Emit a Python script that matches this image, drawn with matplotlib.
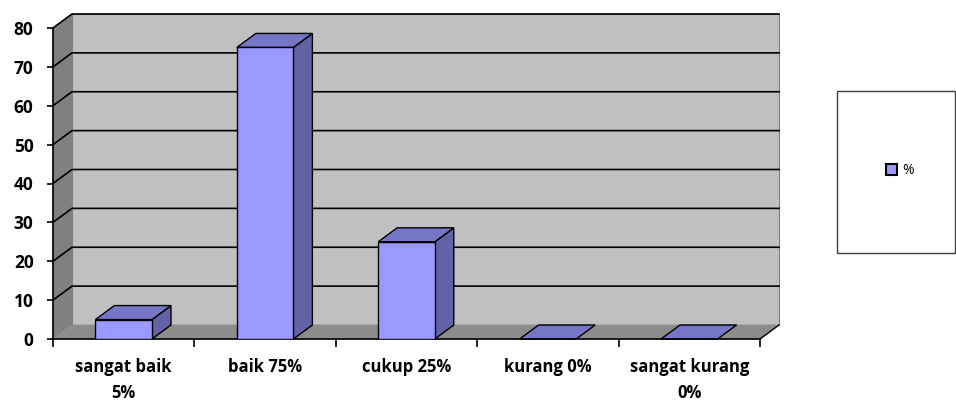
import matplotlib.pyplot as plt
from matplotlib.patches import Polygon, Rectangle, Patch
from matplotlib.lines import Line2D
from matplotlib.transforms import IdentityTransform

categories = ["sangat baik\n5%", "baik 75%", "cukup 25%", "kurang 0%", "sangat kurang\n0%"]
values = [5, 75, 25, 0, 0]
yticks = [0, 10, 20, 30, 40, 50, 60, 70, 80]
series_name = "%"

plt.rcParams['font.family'] = ['Open Sans', 'DejaVu Sans']
plt.rcParams['font.weight'] = 'bold'

fig = plt.figure(figsize=(9.56, 4.01), dpi=100)
ax = fig.add_axes([53 / 956, 62 / 401, 707 / 956, 311 / 401])
ax.set_xlim(0, len(categories))
ax.set_ylim(0, yticks[-1])
ax.set_facecolor('none')
for s in ['top', 'right']:
    ax.spines[s].set_visible(False)
ax.spines['left'].set_linewidth(1.2)
ax.spines['bottom'].set_linewidth(1.2)

DX, DY = 19, 14  # depth offset in pixels
ID = IdentityTransform()


def disp(x, y, back=False):
    p = ax.transData.transform((x, y))
    if back:
        p = p + (DX, DY)
    return p


def poly(pts, fc, ec='black', lw=1.0, z=1):
    ax.add_patch(Polygon(pts, closed=True, facecolor=fc, edgecolor=ec, linewidth=lw,
                         transform=ID, clip_on=False, zorder=z))


n = len(categories)
ymax = yticks[-1]

# back wall
poly([disp(0, 0, True), disp(n, 0, True), disp(n, ymax, True), disp(0, ymax, True)],
     '#C0C0C0', ec='#808080', lw=0.8, z=0.5)
# left wall
poly([disp(0, 0), disp(0, 0, True), disp(0, ymax, True), disp(0, ymax)],
     '#808080', ec='#808080', lw=0.5, z=0.6)
# floor
poly([disp(0, 0), disp(n, 0), disp(n, 0, True), disp(0, 0, True)],
     '#8C8C8C', ec='#8C8C8C', lw=0.5, z=0.6)

# gridlines
for v in yticks[1:]:
    a, b = disp(0, v, True), disp(n, v, True)
    c = disp(0, v)
    ax.add_line(Line2D([c[0], a[0], b[0]], [c[1], a[1], b[1]], color='black',
                       linewidth=1.2, transform=ID, clip_on=False, zorder=0.8))
# right floor edge
a, b = disp(n, 0), disp(n, 0, True)
ax.add_line(Line2D([a[0], b[0]], [a[1], b[1]], color='black', linewidth=1.0,
                   transform=ID, clip_on=False, zorder=0.9))

# bars
w = 0.4
centers = [i + 0.5 for i in range(n)]
for xc, v in zip(centers, values):
    x0, x1 = xc - w / 2, xc + w / 2
    if v > 0:
        poly([disp(x1, 0), disp(x1, 0, True), disp(x1, v, True), disp(x1, v)], '#6262A6', z=2)
    poly([disp(x0, v), disp(x1, v), disp(x1, v, True), disp(x0, v, True)], '#7676C6', z=2)
ax.bar(centers, values, width=w, color='#9999FF', edgecolor='black', linewidth=1.0, zorder=3)

# ticks
ax.set_yticks(yticks)
ax.tick_params(axis='y', length=4, width=1.2, pad=10, labelsize=12.5)
ax.set_xticks(range(n + 1))
ax.set_xticklabels([])
ax.set_xticks(centers, minor=True)
ax.set_xticklabels(categories, minor=True, linespacing=1.55)
ax.tick_params(axis='x', which='major', length=6, width=1.2, direction='out')
ax.tick_params(axis='x', which='minor', length=0, pad=14, labelsize=12)
for lab in ax.get_xticklabels(minor=True) + ax.get_yticklabels():
    lab.set_fontweight('bold')

# legend box
fig.add_artist(Rectangle((837 / 956, 1 - 253 / 401), 118 / 956, 162 / 401,
                         transform=fig.transFigure, facecolor='white', edgecolor='#404040',
                         linewidth=1.0))
fig.legend(handles=[Patch(facecolor='#9999FF', edgecolor='black', linewidth=1.5)],
           labels=[series_name], loc='center', bbox_to_anchor=(900 / 956, 1 - 171 / 401),
           frameon=False, handlelength=0.8, handleheight=0.8, handletextpad=0.4,
           prop={'size': 10, 'weight': 'normal'})

fig.savefig('out.png', dpi=100)
